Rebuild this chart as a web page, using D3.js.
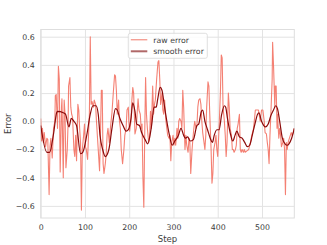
<!DOCTYPE html>
<html lang = "en">
<head>
    <meta charset="utf-8">
    <style>
        body { margin: 0; background: #fff; }
        svg { display: block; font-family: "DejaVu Sans", sans-serif; }
    </style>
</head>
<body>
    <svg width="327" height="245"></svg>
    <script src="https://cdn.jsdelivr.net/npm/d3@7"></script>
    <script>
        /************************************************************************************
        * Data
        ************************************************************************************/
        const rawStep = [
            0, 2, 4, 6, 8, 11, 14, 16, 19, 21, 23, 26, 29, 32, 33, 35, 38, 40, 42, 44,
            47, 48, 51, 53, 55, 57, 60, 62, 63, 66, 68, 70, 72, 75, 77, 79, 81, 84, 86, 88,
            90, 92, 94, 97, 99, 101, 103, 106, 108, 110, 112, 114, 116, 119, 121, 124, 126, 128, 130, 133,
            135, 137, 139, 141, 143, 146, 148, 150, 152, 155, 158, 161, 164, 167, 169, 171, 173, 176, 178, 180,
            182, 185, 188, 190, 193, 195, 198, 199, 201, 204, 206, 208, 210, 213, 216, 218, 220, 222, 225, 227,
            229, 231, 233, 235, 237, 239, 241, 244, 246, 248, 250, 253, 255, 257, 259, 262, 265, 267, 269, 271,
            274, 276, 278, 280, 283, 285, 287, 290, 292, 294, 296, 299, 301, 303, 305, 308, 310, 312, 314, 317,
            319, 321, 323, 326, 328, 330, 333, 335, 337, 339, 342, 344, 346, 348, 351, 353, 355, 357, 360, 362,
            364, 366, 369, 371, 373, 375, 378, 380, 382, 385, 387, 389, 391, 394, 396, 398, 400, 403, 406, 408,
            410, 412, 415, 417, 419, 421, 424, 426, 428, 431, 433, 435, 437, 440, 442, 444, 446, 449, 451, 453,
            455, 458, 460, 462, 466, 470, 474, 477, 481, 485, 489, 492, 496, 499, 502, 505, 507, 510, 512, 514,
            516, 518, 520, 523, 524, 526, 529, 530, 532, 534, 535, 538, 540, 542, 544, 547, 549, 551, 553, 555,
            557, 559, 562, 564, 566, 568, 571, 573
        ];
        const rawError = [
            0.02, -0.14, -0.05, -0.15, -0.08, -0.18, -0.12, -0.13, -0.52, -0.18, -0.12, -0.26, -0.05, 0.0, 0.18, 0.19, -0.05, 0.39, 0.3, -0.36,
            0.1, 0.16, -0.4, 0.15, 0.05, -0.33, -0.2, 0.0, 0.25, 0.31, 0.1, 0.05, 0.03, -0.2, -0.25, -0.1, -0.28, 0.12, 0.08, -0.05,
            -0.15, -0.63, -0.2, -0.1, -0.02, -0.18, -0.2, -0.27, -0.1, 0.05, 0.6, 0.12, 0.14, 0.1, 0.15, 0.12, 0.0, -0.1, -0.2, -0.35,
            -0.1, 0.22, 0.22, -0.3, -0.37, -0.3, -0.23, -0.1, -0.05, -0.15, -0.03, 0.06, 0.2, 0.33, 0.32, 0.22, 0.05, 0.15, 0.0, -0.05,
            -0.2, -0.3, -0.2, -0.1, -0.05, 0.08, 0.1, 0.0, -0.07, 0.0, 0.15, 0.24, 0.2, -0.09, -0.05, 0.06, 0.16, 0.08, 0.05, -0.05,
            -0.02, -0.4, -0.61, -0.1, 0.31, 0.05, -0.05, -0.15, -0.12, 0.07, -0.05, 0.25, 0.05, 0.12, 0.15, 0.3, 0.42, 0.43, 0.3, 0.12,
            0.2, 0.08, 0.05, 0.15, 0.0, -0.05, -0.1, -0.12, -0.1, -0.28, -0.15, -0.1, -0.17, -0.12, -0.17, -0.05, -0.12, 0.0, 0.02, 0.0,
            -0.05, 0.22, 0.1, -0.2, -0.1, -0.17, -0.22, -0.12, -0.15, -0.37, -0.2, -0.12, -0.05, 0.0, -0.05, -0.03, 0.1, 0.15, 0.16, 0.12,
            0.0, -0.08, -0.15, -0.2, -0.1, 0.1, 0.28, 0.25, 0.05, -0.2, -0.44, -0.37, -0.2, -0.15, -0.1, -0.2, -0.25, -0.05, 0.2, 0.47,
            0.45, 0.1, 0.0, -0.1, -0.25, -0.15, 0.2, 0.1, -0.05, -0.1, -0.2, -0.2, -0.22, -0.2, -0.17, -0.05, -0.02, 0.05, -0.2, -0.22,
            -0.2, -0.22, -0.2, -0.22, -0.21, -0.2, -0.15, -0.1, -0.05, 0.08, 0.08, 0.08, 0.0, 0.08, 0.08, 0.0, -0.08, -0.09, -0.15, -0.2,
            -0.3, -0.1, 0.05, 0.3, 0.56, 0.4, 0.1, 0.25, 0.25, -0.05, 0.05, -0.12, -0.05, -0.1, -0.18, -0.15, -0.12, -0.2, -0.52, -0.15,
            -0.2, -0.15, -0.12, -0.1, -0.08, -0.1, -0.08, -0.05
        ];

        const smoothStep = [
            0, 14, 20, 29, 36, 38, 51, 56, 64, 69, 75, 81, 90, 95, 104, 112, 118, 125, 130, 134,
            140, 146, 154, 161, 169, 173, 179, 186, 193, 198, 204, 208, 213, 217, 223, 228, 236, 242, 247, 251,
            256, 261, 264, 270, 274, 279, 285, 291, 297, 303, 311, 317, 323, 327, 332, 338, 345, 353, 357, 363,
            366, 371, 377, 383, 388, 392, 398, 403, 409, 415, 418, 422, 428, 434, 439, 443, 449, 455, 461, 467,
            472, 478, 484, 490, 493, 499, 504, 508, 514, 520, 526, 531, 535, 540, 546, 552, 557, 561, 567, 573
        ];
        const smoothError = [
            -0.03, -0.22, -0.22, -0.09, 0.06, 0.07, 0.06, 0.05, -0.04, 0.02, 0.0, -0.03, -0.23, -0.22, -0.1, 0.05, 0.11, 0.11, 0.05, -0.1,
            -0.2, -0.25, -0.2, -0.05, 0.09, 0.08, 0.02, -0.03, -0.07, -0.06, 0.02, 0.13, 0.07, -0.02, -0.03, -0.08, -0.13, -0.16, -0.1, -0.02,
            0.1, 0.1, 0.15, 0.24, 0.22, 0.12, 0.0, -0.1, -0.17, -0.14, -0.1, -0.05, -0.1, -0.12, -0.11, -0.14, -0.13, -0.03, -0.02, 0.07,
            0.08, 0.0, -0.06, -0.12, -0.15, -0.1, -0.06, -0.06, 0.05, 0.11, 0.1, 0.02, -0.08, -0.14, -0.1, -0.07, -0.11, -0.12, -0.15, -0.18,
            -0.17, -0.1, -0.02, 0.05, 0.06, 0.0, -0.03, -0.04, -0.02, 0.04, 0.08, 0.11, 0.09, 0.0, -0.12, -0.16, -0.17, -0.16, -0.12, -0.05
        ];

        const yTicks = [-0.6, -0.4, -0.2, 0.0, 0.2, 0.4, 0.6];
        const xTicks = [0, 100, 200, 300, 400, 500];
        const seriesNames = ["raw error", "smooth error"];

        /************************************************************************************
        * Layout
        ************************************************************************************/
        const svg = d3.select("svg");
        const margin = { top: 29.5, right: 32.7, bottom: 27, left: 40.7 };
        const width = 327 - margin.left - margin.right;
        const height = 245 - margin.top - margin.bottom;

        const textColor = "#3d3d3d";
        const gridColor = "#e3e3e3";
        const rawColor = "#f26a5a";
        const smoothColor = "#8b0a0a";
        const fontSize = 7.8;

        const x = d3.scaleLinear().domain([0, 573]).range([0, width]);
        const y = d3.scaleLinear().domain([-0.686, 0.651]).range([height, 0]);

        const chart = svg.append("g").attr("transform", `translate(${margin.left}, ${margin.top})`);

        /************************************************************************************
        * Grid + axes
        ************************************************************************************/
        const xAxis = chart.append("g")
            .attr("transform", `translate(0, ${height})`)
            .call(d3.axisBottom(x).tickValues(xTicks).tickSize(-height).tickPadding(6).tickFormat(d3.format("d")));
        const yAxis = chart.append("g")
            .call(d3.axisLeft(y).tickValues(yTicks).tickSize(-width).tickPadding(6).tickFormat(d3.format(".1f")));

        [xAxis, yAxis].forEach(ax => {
            ax.select(".domain").remove();
            ax.selectAll(".tick line").attr("stroke", gridColor).attr("stroke-width", 1);
            ax.selectAll(".tick text")
                .attr("fill", textColor)
                .style("font-size", fontSize + "px")
                .style("font-family", "DejaVu Sans");
        });

        // Frame
        chart.append("rect")
            .attr("x", 0).attr("y", 0).attr("width", width).attr("height", height)
            .attr("fill", "none").attr("stroke", "#dedede").attr("stroke-width", 1);

        // Axis labels
        chart.append("text")
            .attr("x", width / 2).attr("y", height + 24)
            .attr("text-anchor", "middle")
            .attr("fill", textColor)
            .style("font-size", "8.5px")
            .text("Step");
        chart.append("text")
            .attr("transform", `translate(${-margin.left + 10.5}, ${height / 2}) rotate(-90)`)
            .attr("text-anchor", "middle")
            .attr("fill", textColor)
            .style("font-size", "8.5px")
            .text("Error");

        /************************************************************************************
        * Lines
        ************************************************************************************/
        const clip = svg.append("defs").append("clipPath").attr("id", "plotClip");
        clip.append("rect").attr("width", width).attr("height", height);

        const plot = chart.append("g").attr("clip-path", "url(#plotClip)");

        const rawLine = d3.line().x(i => x(rawStep[i])).y(i => y(rawError[i]));
        plot.append("path")
            .datum(d3.range(rawStep.length))
            .attr("d", rawLine)
            .attr("fill", "none")
            .attr("stroke", rawColor)
            .attr("stroke-opacity", 0.85)
            .attr("stroke-width", 1.1)
            .attr("stroke-linejoin", "round");

        const smoothLine = d3.line().curve(d3.curveMonotoneX)
            .x(i => x(smoothStep[i])).y(i => y(smoothError[i]));
        plot.append("path")
            .datum(d3.range(smoothStep.length))
            .attr("d", smoothLine)
            .attr("fill", "none")
            .attr("stroke", smoothColor)
            .attr("stroke-width", 1.2)
            .attr("stroke-linejoin", "round");

        /************************************************************************************
        * Legend
        ************************************************************************************/
        const legend = svg.append("g").attr("transform", "translate(128.3, 33.3)");
        legend.append("rect")
            .attr("width", 79).attr("height", 25).attr("rx", 2)
            .attr("fill", "#fff").attr("fill-opacity", 0.85)
            .attr("stroke", "#d8d8d8").attr("stroke-width", 0.8);

        const legendStyles = [
            { color: "#f07868", width: 1 },
            { color: "#b06868", width: 2 }
        ];
        seriesNames.forEach((name, i) => {
            const ly = 6.5 + i * 11.5;
            legend.append("line")
                .attr("x1", 2.5).attr("x2", 19).attr("y1", ly).attr("y2", ly)
                .attr("stroke", legendStyles[i].color)
                .attr("stroke-width", legendStyles[i].width);
            legend.append("text")
                .attr("x", 25).attr("y", ly + 2.8)
                .attr("fill", textColor)
                .style("font-size", fontSize + "px")
                .text(name);
        });
    </script>
</body>
</html>
